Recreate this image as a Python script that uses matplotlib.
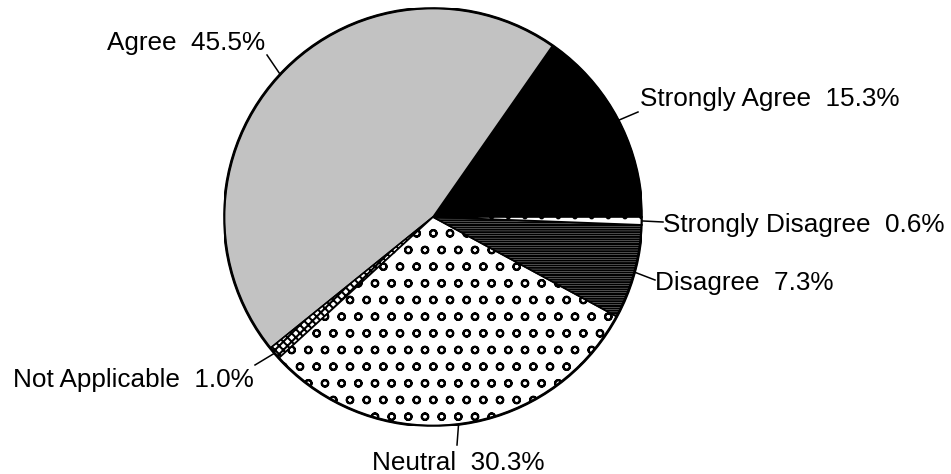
import numpy as np
import matplotlib
matplotlib.use("Agg")
import matplotlib.pyplot as plt

# survey responses, counter-clockwise from 3 o'clock
labels = ["Strongly Agree", "Agree", "Not Applicable", "Neutral", "Disagree", "Strongly Disagree"]
shares = [15.3, 45.5, 1.0, 30.3, 7.3, 0.6]

faces = ["black", "#c2c2c2", "white", "white", "white", "white"]
hatches = [None, None, "xxxx", "o", "-------", "."]

plt.rcParams["font.family"] = ["Liberation Sans", "DejaVu Sans"]
plt.rcParams["hatch.linewidth"] = 1.5

W, H = 951, 474
cx, cy, R = 433, 217, 209  # pie centre / radius in pixels


def px(x, y):
    # pixel position -> data coords (pie radius = 1)
    return (x - cx) / R, (cy - y) / R


fig = plt.figure(figsize=(W / 100, H / 100), dpi=100)
ax = fig.add_axes([(cx - R) / W, (H - cy - R) / H, 2 * R / W, 2 * R / H])

wedges, _ = ax.pie(shares, startangle=0, counterclock=True, radius=1,
                   colors=faces,
                   wedgeprops=dict(edgecolor="black", linewidth=1.2))
for w, h in zip(wedges, hatches):
    if h:
        w.set_hatch(h)

# outer rim a bit heavier
ax.add_patch(plt.Circle((0, 0), 1, fill=False, lw=2, ec="black"))

# label text: (leader end px, text anchor px, ha)
leader_ends = [(638, 112), (267, 55), (255, 365), (457, 445), (655, 280), (663, 222)]
text_pos = [(640, 106, "left"), (265, 50, "right"), (13, 387, "left"),
            (372, 470, "left"), (655, 290, "left"), (663, 232, "left")]

for w, lab, val, end, (tx, ty, ha) in zip(wedges, labels, shares, leader_ends, text_pos):
    mid = np.deg2rad((w.theta1 + w.theta2) / 2)
    ex, ey = px(*end)
    ax.plot([np.cos(mid), ex], [np.sin(mid), ey], color="black", lw=1.1,
            clip_on=False)
    ax.text(*px(tx, ty), f"{lab}  {val:.1f}%", ha=ha, va="baseline",
            fontsize=18.8, clip_on=False)

ax.set_xlim(-1, 1)
ax.set_ylim(-1, 1)
ax.set_aspect("equal")
ax.axis("off")

fig.savefig("out.png", dpi=100)
